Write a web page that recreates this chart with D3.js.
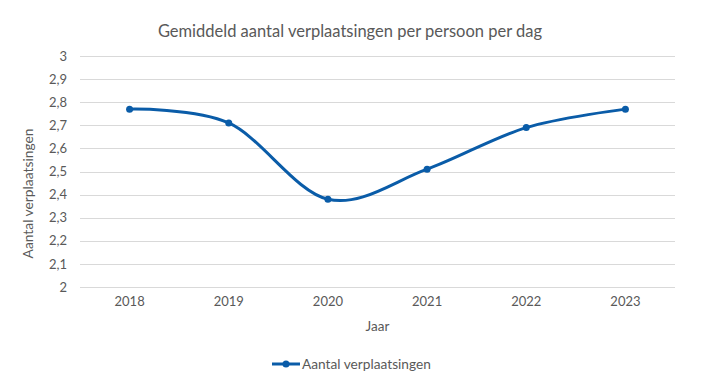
<!DOCTYPE html>
<html>
<head>
<meta charset="utf-8">
<script src="https://cdn.jsdelivr.net/npm/d3@7"></script>
<style>
  body{margin:0;background:#fff;}
  text{font-family:Lato,"Open Sans",sans-serif;}
</style>
</head>
<body>
<script>
// data
var years=["2018","2019","2020","2021","2022","2023"]
var trips=[2.77,2.71,2.38,2.51,2.69,2.77]
var yTicks=[2,2.1,2.2,2.3,2.4,2.5,2.6,2.7,2.8,2.9,3]
var seriesName="Aantal verplaatsingen"

var W=717,H=388
var plot={left:80,right:675,top:56,bottom:287}
var blue="#0A5CA8"

var svg=d3.select("body").append("svg")
  .attr("width",W).attr("height",H)

var x=d3.scaleBand().domain(years).range([plot.left,plot.right])
var y=d3.scaleLinear().domain([2,3]).range([plot.bottom,plot.top])
var fmt=function(d){return d3.format(".1~f")(d).replace(".",",")}

// gridlines
svg.append("g")
  .selectAll("line")
  .data(yTicks)
  .enter()
  .append("line")
  .attr("x1",plot.left).attr("x2",plot.right)
  .attr("y1",function(d){return Math.round(y(d))+0.5})
  .attr("y2",function(d){return Math.round(y(d))+0.5})
  .attr("stroke","#D9D9D9")
  .attr("stroke-width",1)

// y axis labels
var yAxis=d3.axisLeft(y).tickValues(yTicks).tickFormat(fmt).tickSize(0).tickPadding(0)
svg.append("g")
  .attr("transform","translate("+(plot.left-13)+",0)")
  .call(yAxis)
  .call(function(g){g.select(".domain").remove()})
  .selectAll("text")
  .attr("fill","#595959")
  .style("font-size","13px")

// x axis labels
var xAxis=d3.axisBottom(x).tickSize(0).tickPadding(0)
svg.append("g")
  .attr("transform","translate(0,"+(plot.bottom+10)+")")
  .call(xAxis)
  .call(function(g){g.select(".domain").remove()})
  .selectAll("text")
  .attr("fill","#595959")
  .style("font-size","13px")

// line
var line=d3.line()
  .x(function(d,i){return x(years[i])+x.bandwidth()/2})
  .y(function(d){return y(d)})
  .curve(d3.curveCardinal.tension(0))

svg.append("path")
  .datum(trips)
  .attr("d",line)
  .attr("fill","none")
  .attr("stroke",blue)
  .attr("stroke-width",3)
  .attr("stroke-linecap","round")

svg.append("g")
  .selectAll("circle")
  .data(trips)
  .enter()
  .append("circle")
  .attr("cx",function(d,i){return x(years[i])+x.bandwidth()/2})
  .attr("cy",function(d){return y(d)})
  .attr("r",3.5)
  .attr("fill",blue)

// titles
svg.append("text")
  .attr("x",350).attr("y",37)
  .attr("text-anchor","middle")
  .attr("fill","#595959")
  .style("font-size","16.5px")
  .text("Gemiddeld aantal verplaatsingen per persoon per dag")

svg.append("text")
  .attr("transform","translate(33,"+((plot.top+plot.bottom)/2+22)+") rotate(-90)")
  .attr("text-anchor","middle")
  .attr("fill","#595959")
  .style("font-size","13.8px")
  .text("Aantal verplaatsingen")

svg.append("text")
  .attr("x",(plot.left+plot.right)/2).attr("y",331)
  .attr("text-anchor","middle")
  .attr("fill","#595959")
  .style("font-size","13.5px")
  .text("Jaar")

// legend
var lg=svg.append("g").attr("transform","translate(272,364)")
lg.append("line")
  .attr("x1",0).attr("x2",28)
  .attr("stroke",blue).attr("stroke-width",3)
lg.append("circle").attr("cx",14).attr("r",3.5).attr("fill",blue)
lg.append("text")
  .attr("x",30).attr("y",5)
  .attr("fill","#595959")
  .style("font-size","13.7px")
  .text(seriesName)
</script>
</body>
</html>
